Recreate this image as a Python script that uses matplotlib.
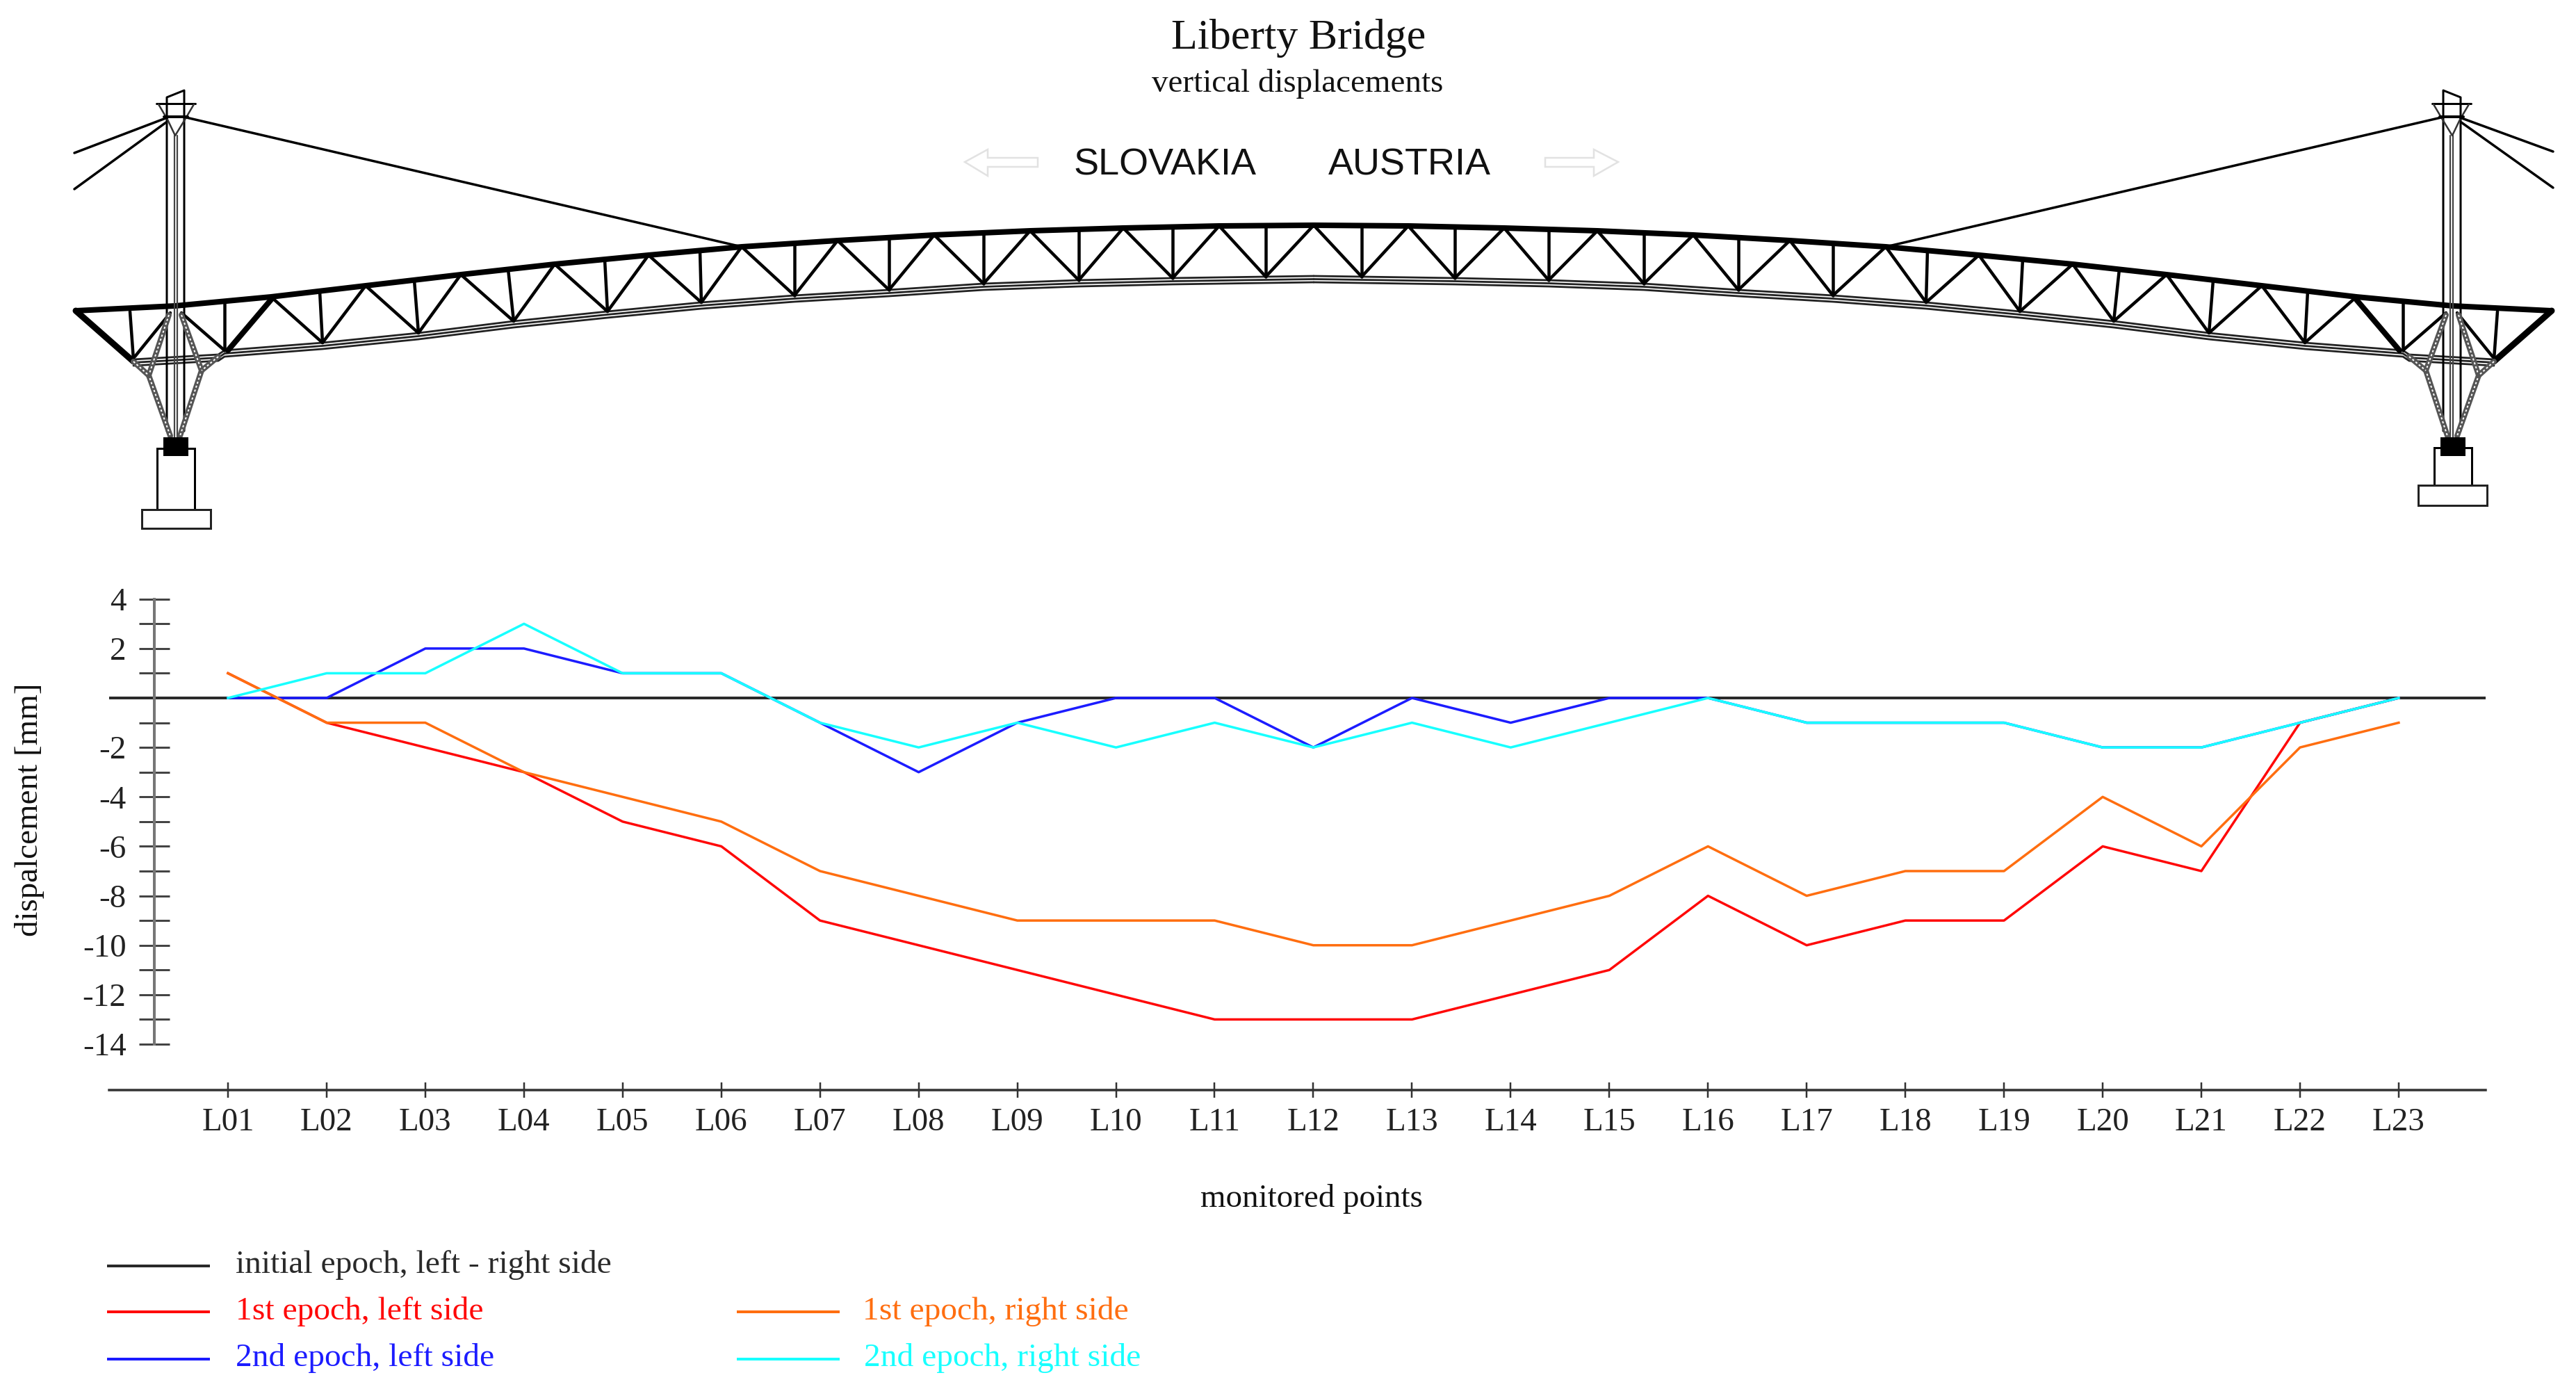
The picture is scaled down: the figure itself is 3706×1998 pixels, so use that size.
import matplotlib
matplotlib.use("Agg")
import matplotlib.pyplot as plt
from matplotlib.lines import Line2D
from matplotlib.patches import Polygon, Rectangle

W, H = 3706, 1998
plt.rcParams['font.family'] = ['Liberation Serif', 'DejaVu Serif']

# chart data
points = ['L%02d' % i for i in range(1, 24)]
first_left = [1, -1, -2, -3, -5, -6, -9, -10, -11, -12, -13, -13, -13, -12, -11, -8, -10, -9, -9, -6, -7, -1, 0]
first_right = [1, -1, -1, -3, -4, -5, -7, -8, -9, -9, -9, -10, -10, -9, -8, -6, -8, -7, -7, -4, -6, -2, -1]
second_left = [0, 0, 2, 2, 1, 1, -1, -3, -1, 0, 0, -2, 0, -1, 0, 0, -1, -1, -1, -2, -2, -1, 0]
second_right = [0, 1, 1, 3, 1, 1, -1, -2, -1, -2, -1, -2, -1, -2, -1, 0, -1, -1, -1, -2, -2, -1, 0]
y_ticks = list(range(-14, 5))
y_labels = [str(v) if v % 2 == 0 and v != 0 else '' for v in y_ticks]

initial_label = 'initial epoch, left - right side'
first_left_label = '1st epoch, left side'
first_right_label = '1st epoch, right side'
second_left_label = '2nd epoch, left side'
second_right_label = '2nd epoch, right side'

black = '#2a2a2a'
red = '#ff0808'
orange = '#ff6e10'
blue = '#1c1cff'
cyan = '#18ffff'

# bridge outline, left half in image pixels (right half is mirrored)
top_x = [109, 252, 390, 526, 663, 798, 933, 1067, 1205, 1344, 1482, 1616, 1754, 1890]
top_y = [447, 440, 427, 411, 395, 380, 367, 355, 346, 338, 332, 328, 325, 324]
low_x = [323, 464, 602, 739, 874, 1009, 1143, 1279, 1415, 1552, 1687, 1821]
low_y = [504, 493, 479, 462, 448, 435, 425, 417, 408, 403, 400, 398]
post_x = [323, 460, 596, 731, 870, 1007, 1143, 1279, 1415, 1552, 1687, 1821]
post_y = [434, 419, 403, 387, 373, 360, 350, 342, 335, 330, 326, 324]
chord_mid_x, chord_mid_y = 1890, 397
MID = 3780


def px(v):
    return v * 0.72


fig = plt.figure(figsize=(W / 100, H / 100), dpi=100, facecolor='white')
bridge = fig.add_axes([0, 0, 1, 1])
bridge.set_xlim(0, W)
bridge.set_ylim(H, 0)
bridge.axis('off')


def seg(xs, ys, width, color='black', mirror=False):
    if mirror:
        xs = [MID - x for x in xs]
    bridge.plot(xs, ys, color=color, lw=px(width), solid_capstyle='round', solid_joinstyle='round')


def strut(xs, ys, mirror):
    # the latticed legs read as a dark grey band with a dashed core
    seg(xs, ys, 8, '#555555', mirror)
    xm = [MID - x for x in xs] if mirror else xs
    bridge.plot(xm, ys, color='white', lw=px(2), ls=(0, (1.5, 1.5)))


def half(mirror, pier_top, pier_low, foot_top, foot_low, tip_left, tip_right, shift):
    # chords
    seg(top_x, top_y, 8, mirror=mirror)
    chord_x = [192, 314] + low_x + [chord_mid_x]
    chord_y = [517, 510] + low_y + [chord_mid_y]
    for off in (0, 4.5, 9):
        seg(chord_x, [y + off for y in chord_y], 2.8, '#222222', mirror)
    # posts and diagonals
    for i in range(len(low_x)):
        seg([low_x[i], post_x[i]], [low_y[i], post_y[i]], 4.5, mirror=mirror)
        if i > 0:
            seg([top_x[i + 1], low_x[i], top_x[i + 2]], [top_y[i + 1], low_y[i], top_y[i + 2]], 4.5, mirror=mirror)
    # end panel
    seg([109, 192], [447, 520], 9, mirror=mirror)
    seg([187, 192], [448, 517], 4.5, mirror=mirror)
    seg([194, 245], [513, 450], 4.5, mirror=mirror)
    seg([261, 323], [450, 504], 4.5, mirror=mirror)
    seg([328, 390], [504, 431], 8, mirror=mirror)
    # pylon
    seg([240, 240, 265, 265], [620, 140, 130, 620], 3, mirror=mirror)
    seg([251, 251], [195, 630], 2.2, '#444444', mirror)
    seg([255, 255], [195, 630], 2.2, '#444444', mirror)
    seg([225, 281], [149, 149], 3, mirror=mirror)
    seg([228, 241, 252, 266, 279], [150, 172, 195, 172, 150], 2.5, '#333333', mirror)
    seg([236, 270], [168, 168], 4, mirror=mirror)
    # legs under the deck
    strut([243, 214, 245], [453, 540, 627], mirror)
    strut([261, 290, 259], [453, 533, 627], mirror)
    strut([192, 214], [520, 540], mirror)
    strut([314, 290], [513, 533], mirror)
    # cables
    seg([107, 241], [tip_left, 169], 3.5, mirror=mirror)
    seg([107, 239], [tip_right, 176], 3.5, mirror=mirror)
    seg([268, 1067], [169, 355], 3.5, mirror=mirror)
    # pier
    x0 = MID - 280 + shift if mirror else 226
    bridge.add_patch(Rectangle((x0, pier_top), 54, pier_low - pier_top, fc='white', ec='black', lw=px(3), zorder=3))
    x0 = MID - 303 + shift if mirror else 204
    bridge.add_patch(Rectangle((x0, foot_top), 99, foot_low - foot_top, fc='white', ec='#222222', lw=px(3), zorder=3))
    x0 = MID - 271 + shift if mirror else 235
    bridge.add_patch(Rectangle((x0, 629), 36, 27, fc='black', ec='black', lw=0, zorder=4))


half(False, 645, 733, 733, 760, 220, 272, 0)
half(True, 644, 698, 698, 727, 218, 270, 2)

# pale arrows beside the country names
arrow_left_x = [1388, 1421, 1421, 1493, 1493, 1421, 1421]
arrow_right_x = [2328, 2293, 2293, 2223, 2223, 2293, 2293]
arrow_y = [233, 215, 227, 227, 240, 240, 253]
for xs in (arrow_left_x, arrow_right_x):
    bridge.add_patch(Polygon(list(zip(xs, arrow_y)), closed=True, fc='white', ec='#e2e2e2', lw=px(2.5)))

bridge.text(1868, 55, 'Liberty Bridge', fontsize=px(62), ha='center', va='center', color='#111111')
bridge.text(1867, 121, 'vertical displacements', fontsize=px(47), ha='center', va='center', color='#111111')
bridge.text(1676, 238, 'SLOVAKIA', fontsize=px(54), family='Liberation Sans', ha='center', va='center', color='#111111')
bridge.text(2028, 238, 'AUSTRIA', fontsize=px(54), family='Liberation Sans', ha='center', va='center', color='#111111')

# displacement chart
x0_px, dx_px = 328, 141.95
y0_px, dy_px = 1004, 35.57
axis_left, axis_right, axis_low, axis_top = 157, 3576, 1568.4, 850
ax = fig.add_axes([axis_left / W, 1 - axis_low / H, (axis_right - axis_left) / W, (axis_low - axis_top) / H])
ax.patch.set_alpha(0)
ax.set_xlim((axis_left - x0_px) / dx_px, (axis_right - x0_px) / dx_px)
ax.set_ylim((y0_px - axis_low) / dy_px, (y0_px - axis_top) / dy_px)
xs = list(range(len(points)))

ax.axhline(0, color=black, lw=px(4))
ax.plot(xs, first_left, color=red, lw=px(3.5))
ax.plot(xs, second_left, color=blue, lw=px(3.5))
ax.plot(xs, first_right, color=orange, lw=px(3.5))
ax.plot(xs, second_right, color=cyan, lw=px(3.5))

for s in ('top', 'right'):
    ax.spines[s].set_visible(False)
ax.spines['bottom'].set_color('#333333')
ax.spines['bottom'].set_linewidth(px(3.5))
ax.spines['left'].set_position(('data', (221.6 - x0_px) / dx_px))
ax.spines['left'].set_bounds(-14, 4)
ax.spines['left'].set_color('#777777')
ax.spines['left'].set_linewidth(px(4))

ax.set_xticks(xs, points)
ax.set_yticks(y_ticks, y_labels)
ax.tick_params(axis='x', direction='inout', length=px(23), width=px(2.5), color='#333333', pad=px(14),
               labelsize=px(47), labelcolor='#222222')
ax.tick_params(axis='y', direction='inout', length=px(44), width=px(3), color='#444444', pad=px(18),
               labelsize=px(47), labelcolor='#222222')

bridge.text(1887, 1725, 'monitored points', fontsize=px(47), ha='center', va='center', color='#111111')
bridge.text(43, 1165, 'dispalcement [mm]', fontsize=px(47), rotation=90, ha='center', va='center', color='#111111')

# hand placed legend
legend_rows = [
    (156, 339, 1821, 1831, initial_label, black),
    (156, 339, 1887, 1898, first_left_label, red),
    (156, 339, 1955, 1965, second_left_label, blue),
    (1062, 1241, 1887, 1898, first_right_label, orange),
    (1062, 1243, 1955, 1965, second_right_label, cyan),
]
for x_line, x_text, y_line, y_text, label, color in legend_rows:
    fig.add_artist(Line2D([x_line / W, (x_line + 144) / W], [1 - y_line / H] * 2, color=color, lw=px(4)))
    bridge.text(x_text, y_text, label, fontsize=px(47.5), color=color, ha='left', va='baseline')

fig.savefig('out.png', dpi=100)
